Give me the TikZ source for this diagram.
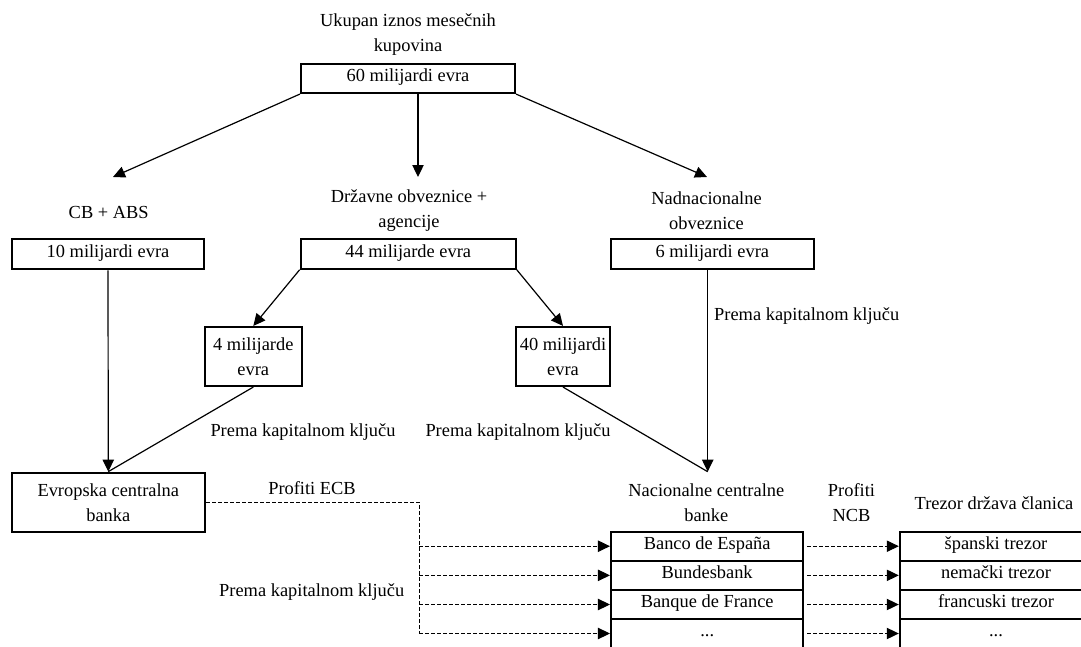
\documentclass[tikz,border=0pt]{standalone}
\usepackage{fontspec}
\setmainfont{Liberation Serif}
\usetikzlibrary{arrows.meta}
\begin{document}
\begin{tikzpicture}[x=0.75pt,y=-0.75pt,
  every node/.style={font=\fontsize{13.8}{18.75}\selectfont, inner sep=0pt, align=center},
  box/.style={draw, line width=1.6pt, inner sep=0pt, text height=0.7em, text depth=0.25em},
  mbox/.style={draw, line width=1.6pt, inner sep=0pt},
  cell/.style={box, minimum width=192.3*0.75pt, minimum height=29*0.75pt},
  conn/.style={line width=0.9pt},
  arr/.style={conn, -{Triangle[length=9pt,width=8.5pt]}},
  dline/.style={line width=0.75pt, dash pattern=on 3pt off 1.5pt},
  darr/.style={dline, -{Triangle[length=9pt,width=8.5pt]}}]

\useasboundingbox (0,0) rectangle (1081,646);
\clip (0,0) rectangle (1081,646);

% top level
\node (title) at (408,34.5) {Ukupan iznos mesečnih\\kupovina};
\node[box, minimum width=214*0.75pt, minimum height=29*0.75pt] (b60) at (408,78.5) {60 milijardi evra};

% categories
\node (cb) at (108.7,212) {CB + ABS};
\node (dz) at (409,210.5) {Državne obveznice +\\agencije};
\node (nn) at (706.5,211) {Nadnacionalne\\obveznice};
\coordinate (cbTop) at (113,177);
\coordinate (dzTop) at (418,177);
\coordinate (nnTop) at (707,177);

\node[box, minimum width=192.6*0.75pt, minimum height=30*0.75pt] (b10) at (108,254.3) {10 milijardi evra};
\node[box, minimum width=215*0.75pt, minimum height=29.4*0.75pt] (b44) at (408.2,254) {44 milijarde evra};
\node[box, minimum width=203.3*0.75pt, minimum height=30*0.75pt] (b6) at (712.3,254.3) {6 milijardi evra};

\node[mbox, minimum width=96.7*0.75pt, minimum height=59*0.75pt] (b4) at (253.3,356.5) {4 milijarde\\evra};
\node[mbox, minimum width=94*0.75pt, minimum height=59*0.75pt] (b40) at (563,356.5) {40 milijardi\\evra};

\node (lab1) at (303,432) {Prema kapitalnom ključu};
\node (lab2) at (518,432) {Prema kapitalnom ključu};
\node (lab3) at (806.7,316) {Prema kapitalnom ključu};

% central banks
\node[mbox, minimum width=193.3*0.75pt, minimum height=59*0.75pt] (ecb) at (108.3,502.2) {Evropska centralna\\banka};
\node (pecb) at (312,488) {Profiti ECB};
\node (lab4) at (311.7,591.7) {Prema kapitalnom ključu};

\node (ncbl) at (706.3,503) {Nacionalne centralne\\banke};
\coordinate (ncbTop) at (707.7,471.7);
\node (pncb) at (851.5,503) {Profiti\\NCB};
\node (trl) at (994,503.3) {Trezor država članica};

\node[cell] (n1) at (707.2,546.2) {Banco de España};
\node[cell] (n2) at (707.2,575.35) {Bundesbank};
\node[cell] (n3) at (707.2,604.5) {Banque de France};
\node[cell] (n4) at (707.2,633.5) {...};

\node[cell] (t1) at (996,546.2) {španski trezor};
\node[cell] (t2) at (996,575.35) {nemački trezor};
\node[cell] (t3) at (996,604.5) {francuski trezor};
\node[cell] (t4) at (996,633.5) {...};

% solid connectors
\draw[arr] (b60.south west) -- (cbTop);
\draw[arr] (b60.south -| dzTop) -- (dzTop);
\draw[arr] (b60.south east) -- (nnTop);

\draw[arr] (b44.south west) -- (b4.north);
\draw[arr] (b44.south east) -- (b40.north);

\draw[arr] (b10.south) -- (ecb.north);
\draw[conn] (b4.south) -- (ecb.north);

\draw[arr] (b6.south -| ncbTop) -- (ncbTop);
\draw[conn] (b40.south) -- (ncbTop);

% dashed profit flows
\coordinate (busx) at (419.3,0);
\draw[dline] (ecb.east) -| (busx |- n4.west);
\draw[darr] (busx |- n1.west) -- (n1.west);
\draw[darr] (busx |- n2.west) -- (n2.west);
\draw[darr] (busx |- n3.west) -- (n3.west);
\draw[darr] (busx |- n4.west) -- (n4.west);

\draw[darr] ([xshift=2pt]n1.east) -- (t1.west);
\draw[darr] ([xshift=2pt]n2.east) -- (t2.west);
\draw[darr] ([xshift=2pt]n3.east) -- (t3.west);
\draw[darr] ([xshift=2pt]n4.east) -- (t4.west);
\end{tikzpicture}
\end{document}
